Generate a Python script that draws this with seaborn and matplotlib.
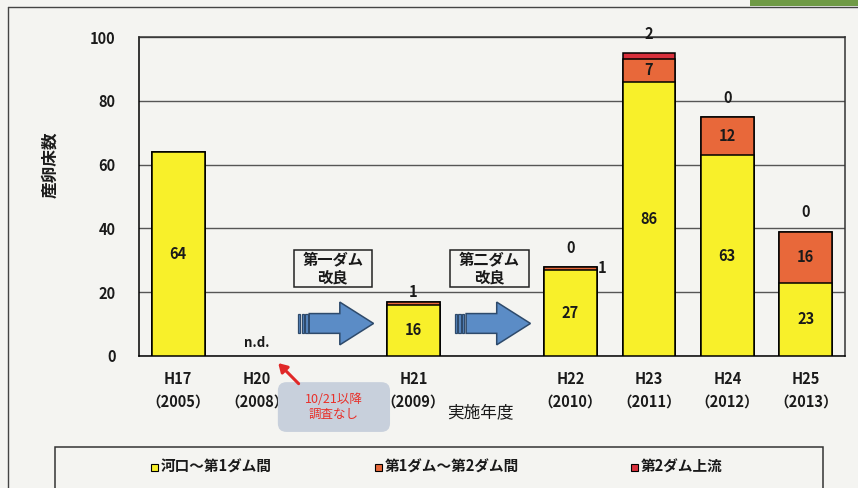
import numpy as np
import pandas as pd
import matplotlib
matplotlib.use("Agg")
import matplotlib.pyplot as plt
import seaborn as sns
from matplotlib.patches import Rectangle, Polygon, FancyBboxPatch
from matplotlib.lines import Line2D

# data (spawning beds per survey year, stacked by river section)
year_codes = ["H17", "H20", "H21", "H22", "H23", "H24", "H25"]
years = ["2005", "2008", "2009", "2010", "2011", "2012", "2013"]
kako_dam1 = [64, np.nan, 16, 27, 86, 63, 23]      # 河口～第1ダム間
dam1_dam2 = [0, np.nan, 1, 1, 7, 12, 16]          # 第1ダム～第2ダム間
dam2_up = [np.nan, np.nan, np.nan, 0, 2, 0, 0]    # 第2ダム上流
series_names = ["河口～第1ダム間", "第1ダム～第2ダム間", "第2ダム上流"]
# dam improvements inserted after these survey years
events = {"H20": "第一ダム\n改良", "H21": "第二ダム\n改良"}

# styling
sns.set_style("white")
plt.rcParams["font.family"] = ["Noto Sans CJK JP", "DejaVu Sans"]
bg = "#f4f4f1"
c_yellow = "#f8f02a"
c_orange = "#e8683a"
c_red = "#d8303c"
c_text = "#1a1a1a"

slot_order = []
for code in year_codes:
    slot_order.append(code)
    if code in events:
        slot_order.append(events[code])

df = pd.DataFrame({"code": year_codes, "year": years,
                   "kako": kako_dam1, "mid": dam1_dam2, "up": dam2_up})
df["lower2"] = df[["kako", "mid"]].sum(axis=1, min_count=1)
df["total"] = df[["kako", "mid", "up"]].sum(axis=1, min_count=1)

fig = plt.figure(figsize=(8.58, 4.88), dpi=100, facecolor=bg)
ax = fig.add_axes([139 / 858, 1 - 356 / 488, 706 / 858, 319 / 488])
ax.set_facecolor(bg)

# stacked bars drawn from the top layer down
for col, color in [("total", c_red), ("lower2", c_orange), ("kako", c_yellow)]:
    sns.barplot(data=df, x="code", y=col, order=slot_order, color=color,
                saturation=1, edgecolor="black", linewidth=1.1, width=0.67,
                errorbar=None, ax=ax, zorder=3)

ax.set_ylim(0, 100)
ax.set_xlim(-0.5, len(slot_order) - 0.5)
ax.set_yticks(range(0, 101, 20))
ax.yaxis.grid(True, color="#555555", linewidth=1, zorder=0)
ax.set_axisbelow(True)
for s in ax.spines.values():
    s.set_color("#333333")
    s.set_linewidth(1.1)
ax.spines["left"].set_color("black")
ax.spines["bottom"].set_color("black")

tick_labels = []
for slot in slot_order:
    if slot in year_codes:
        y = years[year_codes.index(slot)]
        tick_labels.append(f"{slot}\n（{y}）")
    else:
        tick_labels.append("")
ax.set_xticks(range(len(slot_order)))
ax.set_xticklabels(tick_labels, fontsize=10.5, fontweight="bold", color=c_text,
                   linespacing=1.45)
ax.set_xticks(np.arange(0.5, len(slot_order) - 1, 1), minor=True)
ax.tick_params(axis="x", which="major", length=0, pad=11)
ax.tick_params(axis="x", which="minor", direction="in", length=4, color="#444444")
ax.tick_params(axis="y", length=0, pad=17, labelsize=10.5, labelcolor=c_text)
for t in ax.get_yticklabels():
    t.set_fontweight("bold")

ax.set_xlabel("実施年度", fontsize=12, color=c_text)
ax.xaxis.set_label_coords(0.483, -0.15)
ax.set_ylabel("産卵床数", fontsize=12, fontweight="bold", color=c_text)
ax.yaxis.set_label_coords(-0.113, 0.6)

# value labels
lab = dict(ha="center", va="center", fontsize=10.5, fontweight="bold", color=c_text)
for _, r in df.iterrows():
    x = slot_order.index(r["code"])
    if np.isnan(r["kako"]):
        ax.text(x, 4, "n.d.", **{**lab, "fontsize": 9.5})
        continue
    ax.text(x, r["kako"] / 2, f"{r['kako']:.0f}", zorder=5, **lab)
    if r["mid"] >= 3:
        ax.text(x, r["kako"] + r["mid"] / 2, f"{r['mid']:.0f}", zorder=5, **lab)
    elif r["mid"] > 0:
        if np.isnan(r["up"]):
            ax.text(x, r["lower2"] + 3.2, f"{r['mid']:.0f}", **lab)
        else:
            ax.text(x + 0.4, r["lower2"] - 0.5, f"{r['mid']:.0f}", **lab)
    if not np.isnan(r["up"]):
        ax.text(x, r["total"] + 6, f"{r['up']:.0f}", clip_on=False, **lab)

# dam improvement boxes and arrows
for slot in events.values():
    x = slot_order.index(slot)
    ax.add_patch(Rectangle((x - 0.53, 21.6), 1.0, 11.6, fc=bg, ec="#222222",
                           lw=1.1, zorder=4))
    ax.text(x - 0.03, 27.4, slot, ha="center", va="center", fontsize=11,
            fontweight="bold", color=c_text, linespacing=1.2, zorder=5)
    yc = 10.2
    arrow = [(x - 0.33, yc - 3.1), (x + 0.06, yc - 3.1), (x + 0.06, yc - 6.7),
             (x + 0.49, yc), (x + 0.06, yc + 6.7), (x + 0.06, yc + 3.1),
             (x - 0.33, yc + 3.1)]
    ax.add_patch(Polygon(arrow, closed=True, fc="#5b8cc6", ec="#2e4a6b",
                         lw=1.1, zorder=4))
    for i in range(3):
        ax.add_patch(Rectangle((x - 0.475 + i * 0.047, yc - 3.1), 0.03, 6.2,
                               fc="#5b8cc6", ec="#2e4a6b", lw=0.9, zorder=4))

# note below H20
ax.add_patch(FancyBboxPatch((1.27, -23.8), 1.43, 15.6,
                            boxstyle="round,pad=0,rounding_size=0.11",
                            mutation_aspect=24.6, fc="#c8d0dc", ec="none",
                            clip_on=False, zorder=2))
ax.text(1.985, -16, "10/21以降\n調査なし", ha="center", va="center",
        fontsize=9, color="#e8302a", linespacing=1.2, clip_on=False)
ax.annotate("", xy=(1.25, -1.6), xytext=(1.56, -9.3), annotation_clip=False,
            arrowprops=dict(arrowstyle="-|>,head_length=0.5,head_width=0.3",
                            color="#e02828", lw=2.2))

# legend box at the bottom
fig.add_artist(Rectangle((55 / 858, -0.05), 768 / 858, 0.05 + 41 / 488,
                         transform=fig.transFigure, fc=bg, ec="#333333", lw=1.1))
for name, color, px in zip(series_names, [c_yellow, c_orange, c_red], [151, 375, 631]):
    fig.add_artist(Rectangle((px / 858, 1 - 471 / 488), 7 / 858, 7 / 488,
                             transform=fig.transFigure, fc=color, ec="black", lw=0.8))
    fig.text((px + 10) / 858, 1 - 467 / 488, name, ha="left", va="center",
             fontsize=10.5, fontweight="bold", color=c_text)

# outer frame
fig.add_artist(Line2D([8 / 858, 8 / 858], [0, 1 - 7 / 488], transform=fig.transFigure,
                      color="#444444", lw=1))
fig.add_artist(Line2D([8 / 858, 1], [1 - 7 / 488, 1 - 7 / 488], transform=fig.transFigure,
                      color="#444444", lw=1))
fig.add_artist(Rectangle((750 / 858, 1 - 6 / 488), 108 / 858, 6 / 488,
                         transform=fig.transFigure, fc="#6f9a45", ec="none"))

fig.savefig("out.png", dpi=100, facecolor=bg)
